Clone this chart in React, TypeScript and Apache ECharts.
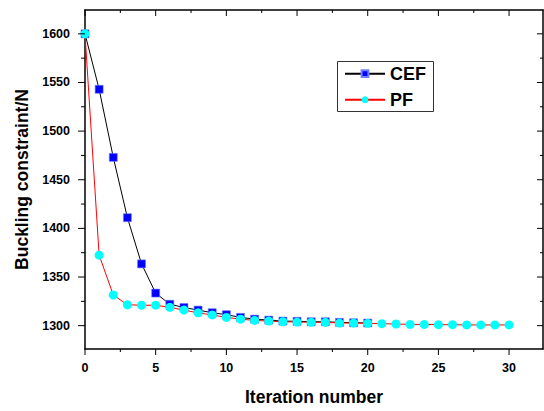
import React, { useEffect, useRef } from "react";
import * as echarts from "echarts";

const cefIterations = [0, 1, 2, 3, 4, 5, 6, 7, 8, 9, 10, 11, 12, 13, 14, 15, 16, 17, 18, 19, 20];
const cefValues = [1600, 1543, 1473, 1411, 1363.5, 1333.5, 1322, 1318.7, 1316, 1313.3, 1311.3, 1308.5, 1306.7, 1305.7, 1304.7, 1304.5, 1304, 1304, 1303.4, 1303, 1302.7];
const pfIterations = [0, 1, 2, 3, 4, 5, 6, 7, 8, 9, 10, 11, 12, 13, 14, 15, 16, 17, 18, 19, 20, 21, 22, 23, 24, 25, 26, 27, 28, 29, 30];
const pfValues = [1600, 1372.5, 1331.5, 1321.5, 1321, 1321, 1318.8, 1316, 1313.2, 1311, 1308.5, 1306.7, 1305.4, 1304.7, 1304, 1303.7, 1303.4, 1303.4, 1302.7, 1302.7, 1302.4, 1302, 1301.7, 1301.3, 1301.3, 1301, 1301, 1300.7, 1300.7, 1300.7, 1300.7];

const xMajorTicks = [0, 5, 10, 15, 20, 25, 30];
const xMinorTicks = [2.5, 7.5, 12.5, 17.5, 22.5, 27.5];
const yMajorTicks = [1300, 1350, 1400, 1450, 1500, 1550, 1600];
const yMinorTicks = [1325, 1375, 1425, 1475, 1525, 1575];

const seriesNames = ["CEF", "PF"];
const xTitle = "Iteration number";
const yTitle = "Buckling constraint/N";

const FONT = "'Liberation Sans', Arial, Helvetica, sans-serif";
const X_MIN = 0;
const X_MAX = 32.4;
const Y_MIN = 1276;
const Y_MAX = 1624.5;

// Tick marks positioned through the chart's own scales (api.coord)
function tickSeries(values: number[], dir: "x" | "y", edgeValue: number, dx: number, dy: number) {
  return {
    type: "custom",
    coordinateSystem: "cartesian2d",
    xAxisIndex: 0,
    yAxisIndex: 0,
    silent: true,
    clip: false,
    z: 5,
    itemStyle: { color: "#000" },
    data: values.map((v) => (dir === "x" ? [v, edgeValue] : [edgeValue, v])),
    renderItem: (_params: any, api: any) => {
      const p = api.coord([api.value(0), api.value(1)]);
      return {
        type: "line",
        shape: { x1: p[0], y1: p[1], x2: p[0] + dx, y2: p[1] + dy },
        style: { stroke: "#000", lineWidth: 1 },
      };
    },
  };
}

export default function App() {
  const ref = useRef<HTMLDivElement>(null);
  useEffect(() => {
    document.body.style.margin = "0";
    if (!ref.current) return;
    const chart = echarts.init(ref.current, undefined, { renderer: "svg" });
    const labelStyle = { fontSize: 12.5, fontWeight: "bold", color: "#000", fontFamily: FONT };
    const nameStyle = { fontSize: 17.5, fontWeight: "bold", color: "#000", fontFamily: FONT };
    const axisLine = { show: true, onZero: false, lineStyle: { color: "#000", width: 1.5 } };
    const option: any = {
      animation: false,
      backgroundColor: "#fff",
      grid: { left: 85, top: 10, right: 1, bottom: 59, containLabel: false },
      xAxis: [
        {
          type: "value",
          position: "bottom",
          min: X_MIN,
          max: X_MAX,
          axisLine,
          axisTick: { show: false },
          axisLabel: { show: true, customValues: xMajorTicks, margin: 12, formatter: (v: number) => String(v), ...labelStyle },
          splitLine: { show: false },
          name: xTitle,
          nameLocation: "middle",
          nameGap: 39,
          nameTextStyle: nameStyle,
        },
        {
          type: "value",
          position: "top",
          min: X_MIN,
          max: X_MAX,
          axisLine,
          axisTick: { show: false },
          axisLabel: { show: false },
          splitLine: { show: false },
        },
      ],
      yAxis: [
        {
          type: "value",
          position: "left",
          min: Y_MIN,
          max: Y_MAX,
          axisLine,
          axisTick: { show: false },
          axisLabel: { show: true, customValues: yMajorTicks, margin: 15, formatter: (v: number) => String(v), ...labelStyle },
          splitLine: { show: false },
          name: yTitle,
          nameLocation: "middle",
          nameGap: 46,
          nameTextStyle: nameStyle,
        },
        {
          type: "value",
          position: "right",
          min: Y_MIN,
          max: Y_MAX,
          axisLine,
          axisTick: { show: false },
          axisLabel: { show: false },
          splitLine: { show: false },
        },
      ],
      legend: {
        data: seriesNames,
        orient: "vertical",
        left: 344,
        top: 64.7,
        padding: 0,
        itemWidth: 40,
        itemHeight: 8.5,
        itemGap: 8,
        textStyle: { fontSize: 18, fontWeight: "bold", color: "#000", fontFamily: FONT, lineHeight: 18 },
      },
      graphic: [
        {
          type: "rect",
          left: 335,
          top: 59,
          shape: { width: 96, height: 50 },
          style: { fill: "none", stroke: "#333", lineWidth: 1 },
          z: 100,
        },
      ],
      series: [
        tickSeries(xMajorTicks, "x", Y_MIN, 0, 6),
        tickSeries(xMinorTicks, "x", Y_MIN, 0, 3),
        tickSeries(xMajorTicks, "x", Y_MAX, 0, 6),
        tickSeries(xMinorTicks, "x", Y_MAX, 0, 3),
        tickSeries(yMajorTicks, "y", X_MIN, -7, 0),
        tickSeries(yMinorTicks, "y", X_MIN, -4, 0),
        tickSeries(yMajorTicks, "y", X_MAX, -6, 0),
        tickSeries(yMinorTicks, "y", X_MAX, -3, 0),
        {
          name: seriesNames[0],
          type: "line",
          xAxisIndex: 0,
          yAxisIndex: 0,
          data: cefIterations.map((x, i) => [x, cefValues[i]]),
          symbol: "rect",
          symbolSize: 8,
          lineStyle: { color: "#000", width: 1 },
          itemStyle: { color: "#0000ff", borderColor: "#6f7fff", borderWidth: 0.6 },
          z: 2,
        },
        {
          name: seriesNames[1],
          type: "line",
          xAxisIndex: 0,
          yAxisIndex: 0,
          data: pfIterations.map((x, i) => [x, pfValues[i]]),
          symbol: "circle",
          symbolSize: 9,
          lineStyle: { color: "#ff0000", width: 1 },
          itemStyle: { color: "#00ffff", borderWidth: 0 },
          z: 3,
        },
      ],
    };
    chart.setOption(option);
    return () => chart.dispose();
  }, []);
  return <div ref={ref} style={{ width: 544, height: 411 }} />;
}
